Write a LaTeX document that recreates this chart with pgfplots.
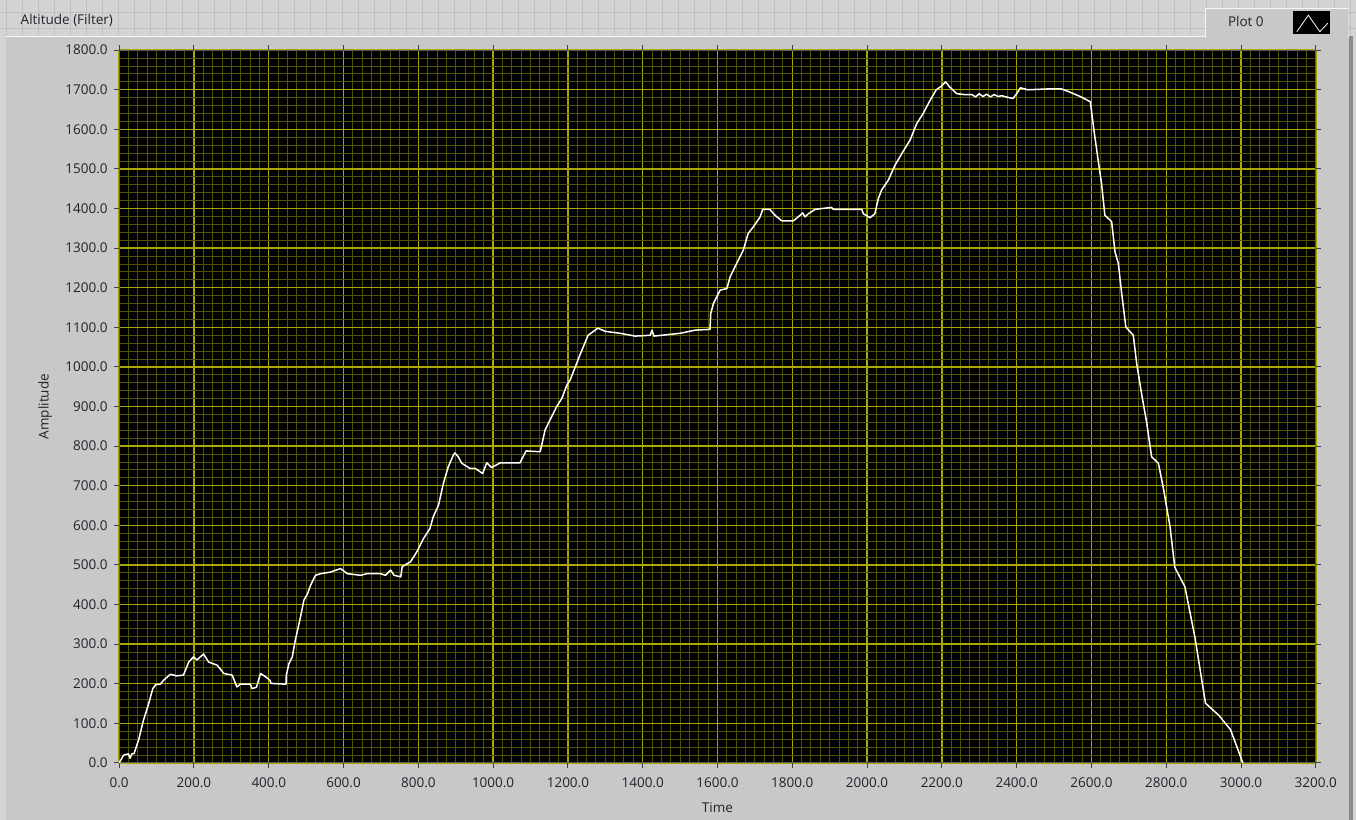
\documentclass[border=0pt]{standalone}
\usepackage{pgfplots}
\pgfplotsset{compat=1.18}
\usepackage{fontspec}
\setmainfont{Open Sans}
\definecolor{panelbg}{RGB}{212,212,212}
\definecolor{panel}{RGB}{200,200,200}
\definecolor{stripgrid}{RGB}{192,192,192}
\definecolor{gridmajor}{RGB}{168,168,0}
\definecolor{gridminor}{RGB}{82,82,0}
\definecolor{ticktext}{RGB}{34,34,44}

\pgfplotstableread{
t alt
0 0
12 20
25 23
29 12
34 23
40 24
52 58
65 108
79 150
90 188
98 198
110 199
119 209
137 224
154 220
172 222
186 255
199 268
208 260
217 268
226 275
239 255
262 247
280 226
302 222
315 192
324 199
351 199
355 188
367 191
378 226
391 218
403 209
406 201
446 199
447 222
454 251
463 268
471 310
476 331
485 369
494 411
504 428
512 449
525 474
539 478
565 482
592 491
610 478
646 474
663 478
699 478
712 474
726 487
735 474
753 470
757 496
779 508
796 533
814 567
831 592
840 622
854 651
867 706
880 748
894 778
898 783
907 773
916 757
938 744
952 744
972 731
983 758
996 746
1019 758
1072 758
1088 788
1126 786
1130 803
1139 841
1152 866
1170 900
1184 921
1197 954
1206 967
1232 1030
1254 1080
1280 1098
1300 1090
1340 1085
1380 1078
1420 1080
1425 1093
1430 1078
1470 1082
1500 1085
1540 1093
1580 1095
1582 1135
1589 1160
1607 1194
1625 1198
1634 1228
1651 1261
1669 1295
1682 1337
1696 1354
1714 1379
1721 1398
1740 1398
1754 1383
1772 1369
1803 1369
1816 1379
1828 1389
1834 1379
1843 1387
1861 1398
1905 1403
1910 1398
1986 1398
1990 1387
2008 1377
2021 1387
2030 1425
2039 1447
2057 1472
2075 1510
2093 1539
2115 1573
2133 1615
2150 1640
2166 1669
2185 1700
2200 1710
2210 1720
2220 1708
2240 1690
2260 1688
2280 1688
2290 1682
2300 1690
2310 1683
2320 1689
2330 1682
2340 1688
2350 1683
2360 1685
2380 1680
2390 1678
2400 1690
2410 1705
2430 1700
2480 1702
2520 1702
2540 1695
2570 1683
2597 1670
2606 1603
2618 1522
2627 1463
2636 1383
2654 1367
2663 1291
2672 1261
2681 1185
2692 1101
2712 1080
2721 1009
2734 933
2748 858
2761 773
2779 757
2792 696
2810 598
2823 494
2850 445
2877 316
2905 151
2941 120
2972 84
3005 0
}\altdata

\begin{document}
\begin{tikzpicture}[x=1pt,y=1pt,font=\fontsize{13.5}{16}\selectfont]
% front panel and graph frame
\fill[panelbg] (0,0) rectangle (1356,820);
\foreach \gx in {6,22,...,1356} \draw[stripgrid] (\gx,784) -- (\gx,820);
\foreach \gy in {792,808} \draw[stripgrid] (0,\gy) -- (1356,\gy);
\fill[panel] (6,0) rectangle (1349,784);
\draw[white!90!panel] (6,784) -- (1349,784);
\fill[black!45] (1349,0) rectangle (1353,784);

% legend
\fill[panel] (1205,782) rectangle (1348,812);
\draw[white!85!panel] (1205,782) -- (1205,812) -- (1348,812);
\node[text=ticktext] at (1246,799) {Plot 0};
\fill[black] (1293,786) rectangle (1330,809);
\draw[white, line width=0.8pt] (1297,788.5) -- (1308.5,805) -- (1320,788.5) -- (1328,797);

% title
\node[anchor=west, text=ticktext] at (17,800) {Altitude (Filter)};

\begin{axis}[
    at={(119pt,57pt)}, anchor=south west,
    scale only axis, width=1197pt, height=713pt,
    xmin=0, xmax=3200, ymin=0, ymax=1800,
    xtick distance=200, ytick distance=100,
    minor x tick num=7, minor y tick num=4,
    grid=both,
    major grid style={gridmajor, line width=1.4pt},
    minor grid style={gridminor, line width=1pt},
    axis background/.style={fill=black},
    axis line style={black!65, line width=1pt},
    tick align=outside,
    major tick length=5pt, minor tick length=0pt,
    tick style={black!75, line width=1pt},
    tick label style={text=ticktext},
    xticklabel style={yshift=-6pt, /pgf/number format/fixed, /pgf/number format/fixed zerofill, /pgf/number format/precision=1, /pgf/number format/1000 sep={}, /pgf/number format/assume math mode=true},
    yticklabel style={xshift=-3pt, /pgf/number format/fixed, /pgf/number format/fixed zerofill, /pgf/number format/precision=1, /pgf/number format/1000 sep={}, /pgf/number format/assume math mode=true},
    xlabel={Time}, ylabel={Amplitude},
    every axis x label/.style={at={(axis description cs:0.5,0)}, yshift=-45pt, anchor=center, text=ticktext},
    every axis y label/.style={at={(axis description cs:0,0.5)}, xshift=-74pt, rotate=90, anchor=center, text=ticktext},
    clip=true,
]
\addplot[white, line width=1.5pt, line join=round] table[x=t, y=alt] {\altdata};
\end{axis}
\end{tikzpicture}
\end{document}
